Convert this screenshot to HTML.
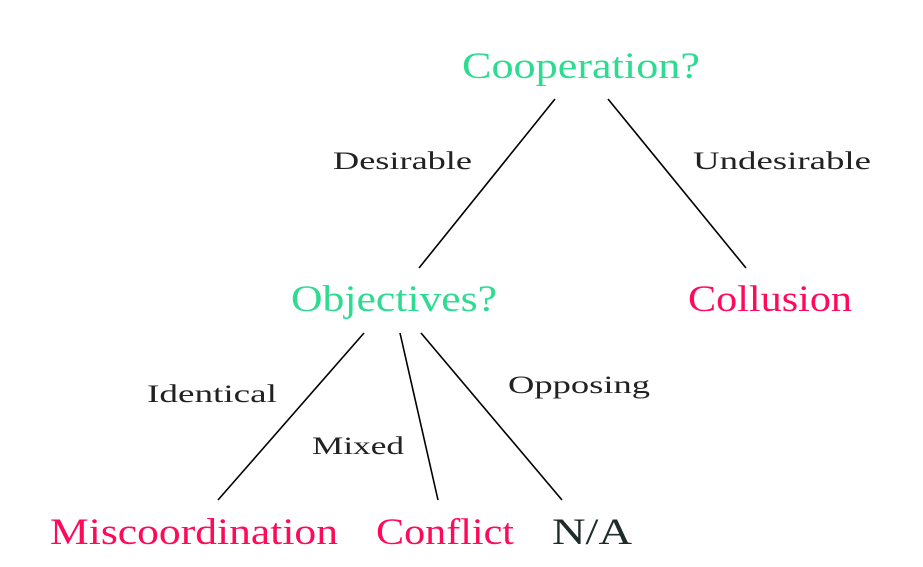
<!DOCTYPE html>
<html><head><meta charset="utf-8"><style>
html,body{margin:0;padding:0;background:#fff;}
svg{display:block;}
text{font-family:"Liberation Serif","Times New Roman",serif;}
.g{fill:#2ddc91;font-size:37px;}
.r{fill:#ff0a5a;font-size:37px;}
.k{fill:#1f2a2a;font-size:37px;}
.s{fill:#222;font-size:25px;}
</style></head><body>
<svg width="923" height="567" viewBox="0 0 923 567">
<g stroke="#000" stroke-width="1.6">
<line x1="555" y1="99" x2="419" y2="268"/>
<line x1="608" y1="99" x2="746" y2="268"/>
<line x1="364" y1="333" x2="218" y2="500"/>
<line x1="400" y1="333" x2="438" y2="500"/>
<line x1="421" y1="333" x2="562" y2="500"/>
</g>
<text class="g" x="462" y="78" textLength="238" lengthAdjust="spacingAndGlyphs">Cooperation?</text>
<text class="g" x="291" y="311" textLength="206" lengthAdjust="spacingAndGlyphs">Objectives?</text>
<text class="r" x="688" y="311" textLength="164" lengthAdjust="spacingAndGlyphs">Collusion</text>
<text class="r" x="50" y="544" textLength="288" lengthAdjust="spacingAndGlyphs">Miscoordination</text>
<text class="r" x="376" y="544" textLength="138" lengthAdjust="spacingAndGlyphs">Conflict</text>
<text class="k" x="552" y="544" textLength="80" lengthAdjust="spacingAndGlyphs">N/A</text>
<text class="s" x="333" y="169" textLength="139" lengthAdjust="spacingAndGlyphs">Desirable</text>
<text class="s" x="693" y="169" textLength="178" lengthAdjust="spacingAndGlyphs">Undesirable</text>
<text class="s" x="147" y="402" textLength="130" lengthAdjust="spacingAndGlyphs">Identical</text>
<text class="s" x="312" y="454" textLength="92" lengthAdjust="spacingAndGlyphs">Mixed</text>
<text class="s" x="508" y="393" textLength="142" lengthAdjust="spacingAndGlyphs">Opposing</text>
</svg>
</body></html>
